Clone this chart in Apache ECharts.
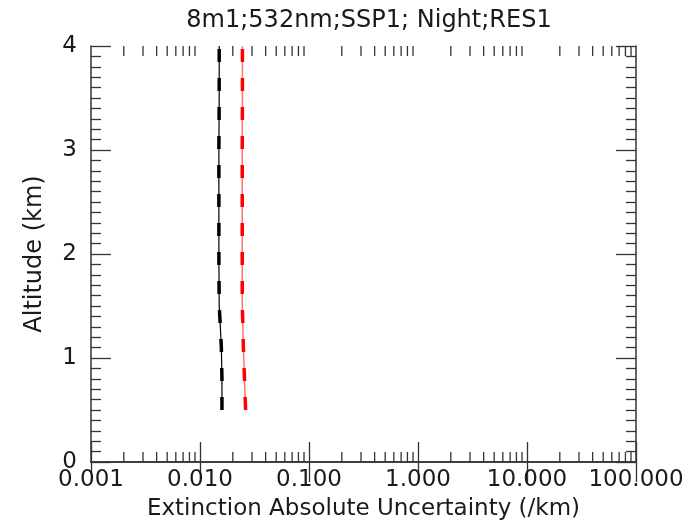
<!DOCTYPE html>
<html>
<head>
<meta charset="utf-8">
<script src="https://cdn.jsdelivr.net/npm/echarts@6/dist/echarts.min.js"></script>
<style>
html,body{margin:0;padding:0;background:#fff;}
#c{width:697px;height:526px;}
</style>
</head>
<body>
<div id="c"></div>
<script>
const titleText = '8m1;532nm;SSP1; Night;RES1';
const xName = 'Extinction Absolute Uncertainty (/km)';
const yName = 'Altitude (km)';
const altitudes = [0.5, 0.8, 1.1, 1.4, 1.5, 2.0, 2.5, 3.0, 3.5, 4.0];
const blackValues = [0.0159, 0.0159, 0.0157, 0.0152, 0.0150, 0.0149, 0.0149, 0.0149, 0.0150, 0.0150];
const redValues = [0.0262, 0.0256, 0.0250, 0.0246, 0.0244, 0.0244, 0.0244, 0.0244, 0.0245, 0.0245];
const xMin = 0.001, xMax = 100;
const yMin = 0, yMax = 4;
const xMinorTicks = [];
for (let e = -3; e < 2; e++) {
  for (let m = 2; m <= 9; m++) xMinorTicks.push(m * Math.pow(10, e));
}

const chart = echarts.init(document.getElementById('c'));
const font = 'DejaVu Sans';
const axisColor = '#333';
const textColor = '#1a1a1a';
const pairs = (vals) => vals.map((v, i) => [v, altitudes[i]]);

const minorSeries = {
  type: 'custom',
  silent: true,
  clip: false,
  z: 1,
  data: xMinorTicks.map(v => [v]),
  renderItem: function (params, api) {
    const v = api.value(0);
    const b = api.coord([v, yMin]);
    const t = api.coord([v, yMax]);
    const st = {stroke: axisColor, lineWidth: 1.3};
    return {
      type: 'group',
      children: [
        {type: 'line', shape: {x1: b[0], y1: b[1], x2: b[0], y2: b[1] - 10}, style: st},
        {type: 'line', shape: {x1: t[0], y1: t[1], x2: t[0], y2: t[1] + 10}, style: st}
      ]
    };
  }
};

const option = {
  backgroundColor: '#fff',
  animation: false,
  title: {
    text: titleText,
    left: 364, top: 4, textAlign: 'center',
    textStyle: {fontFamily: font, fontSize: 24, fontWeight: 'normal', color: textColor}
  },
  grid: {left: 91, right: 61, top: 46, bottom: 63},
  xAxis: [
    {
      type: 'log', logBase: 10, min: xMin, max: xMax, position: 'bottom',
      name: xName, nameLocation: 'middle', nameGap: 36,
      nameTextStyle: {fontFamily: font, fontSize: 23, color: textColor},
      axisLine: {show: true, lineStyle: {color: axisColor, width: 1.5}},
      axisTick: {show: true, inside: true, length: 20, lineStyle: {color: axisColor, width: 1.3}},
      axisLabel: {fontFamily: font, fontSize: 23, color: textColor, margin: 7,
        formatter: v => Number(v).toFixed(3), showMinLabel: true, showMaxLabel: true},
      splitLine: {show: false}
    },
    {
      type: 'log', logBase: 10, min: xMin, max: xMax, position: 'top',
      axisLine: {show: true, lineStyle: {color: axisColor, width: 1.5}},
      axisTick: {show: true, inside: true, length: 20, lineStyle: {color: axisColor, width: 1.3}},
      axisLabel: {show: false},
      splitLine: {show: false}
    }
  ],
  yAxis: [
    {
      type: 'value', min: yMin, max: yMax, interval: 1, position: 'left',
      name: yName, nameLocation: 'middle', nameGap: 44,
      nameTextStyle: {fontFamily: font, fontSize: 24, color: textColor},
      axisLine: {show: true, lineStyle: {color: axisColor, width: 1.5}},
      axisTick: {show: true, inside: true, length: 20, lineStyle: {color: axisColor, width: 1.3}},
      minorTick: {show: true, splitNumber: 10, length: 10, lineStyle: {color: axisColor, width: 1.3}},
      axisLabel: {fontFamily: font, fontSize: 23, color: textColor, margin: 14},
      splitLine: {show: false}
    },
    {
      type: 'value', min: yMin, max: yMax, interval: 1, position: 'right',
      axisLine: {show: true, lineStyle: {color: axisColor, width: 1.5}},
      axisTick: {show: true, inside: true, length: 20, lineStyle: {color: axisColor, width: 1.3}},
      minorTick: {show: true, splitNumber: 10, length: 10, lineStyle: {color: axisColor, width: 1.3}},
      axisLabel: {show: false},
      splitLine: {show: false}
    }
  ],
  series: [
    minorSeries,
    {type: 'line', data: pairs(blackValues), symbol: 'none', z: 3,
      lineStyle: {color: '#000', width: 1.2}},
    {type: 'line', data: pairs(blackValues), symbol: 'none', z: 4,
      lineStyle: {color: '#000', width: 3.5, type: [13, 16]}},
    {type: 'line', data: pairs(redValues), symbol: 'none', z: 3,
      lineStyle: {color: 'rgba(255,0,0,0.55)', width: 1.5}},
    {type: 'line', data: pairs(redValues), symbol: 'none', z: 4,
      lineStyle: {color: '#ff0000', width: 3.5, type: [13, 16]}}
  ]
};
chart.setOption(option);
</script>
</body>
</html>
